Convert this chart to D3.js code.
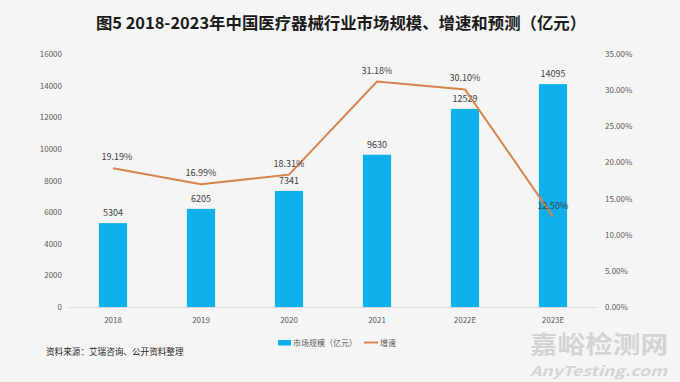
<!DOCTYPE html>
<html><head><meta charset="utf-8">
<script src="https://cdn.jsdelivr.net/npm/d3@7"></script>
<style>
html,body{margin:0;padding:0;background:#f5f5f5;}
svg{display:block;}
text{font-family:"Noto Sans CJK SC","Noto Sans",sans-serif;}
</style></head>
<body>
<svg id="c" width="680" height="382"></svg>
<script>
const categories = ["2018","2019","2020","2021","2022E","2023E"];
const marketSize = [5304,6205,7341,9630,12529,14095];
const growthRate = [19.19,16.99,18.31,31.18,30.10,12.50];
const leftTicks = [0,2000,4000,6000,8000,10000,12000,14000,16000];
const rightTicks = [0,5,10,15,20,25,30,35];
const title = "图5 2018-2023年中国医疗器械行业市场规模、增速和预测（亿元）";
const legendLabels = ["市场规模（亿元）","增速"];
const sourceText = "资料来源：艾瑞咨询、公开资料整理";

const svg = d3.select("#c");
svg.append("rect").attr("width",680).attr("height",382).attr("fill","#f5f5f5");

const m = {left:69, right:597, top:54, bottom:307};
const x = d3.scaleBand().domain(categories).range([m.left,m.right]).paddingInner(0.68).paddingOuter(0.34);
const yL = d3.scaleLinear().domain([0,16000]).range([m.bottom,m.top]);
const yR = d3.scaleLinear().domain([0,35]).range([m.bottom,m.top]);
const blue = "#0db0ea", orange = "#d5844b";
const numFont = "'Open Sans','Noto Sans',sans-serif";

svg.append("text").attr("x",341).attr("y",29).attr("text-anchor","middle")
  .attr("font-size","16.4px").attr("font-weight","bold").attr("fill","#1a1a1a").text(title);

// left axis
const gL = svg.append("g").attr("transform",`translate(${m.left},0)`)
  .call(d3.axisLeft(yL).tickValues(leftTicks).tickSize(0).tickPadding(7).tickFormat(d3.format("d")));
gL.select(".domain").remove();
gL.selectAll("text").attr("font-size","8px").attr("fill","#595959").attr("font-family",numFont);

// right axis
const gR = svg.append("g").attr("transform",`translate(${m.right},0)`)
  .call(d3.axisRight(yR).tickValues(rightTicks).tickSize(0).tickPadding(8).tickFormat(d=>d.toFixed(2)+"%"));
gR.select(".domain").remove();
gR.selectAll("text").attr("font-size","8px").attr("fill","#595959").attr("font-family",numFont);

// bars
svg.selectAll("rect.bar").data(categories).join("rect").attr("class","bar")
  .attr("x",d=>x(d)).attr("width",x.bandwidth())
  .attr("y",(d,i)=>yL(marketSize[i])).attr("height",(d,i)=>yL(0)-yL(marketSize[i]))
  .attr("fill",blue);

// baseline
svg.append("line").attr("x1",m.left).attr("x2",m.right).attr("y1",yL(0)+0.5).attr("y2",yL(0)+0.5)
  .attr("stroke","#d9d9d9").attr("stroke-width",1);

// bottom x axis labels
const gX = svg.append("g").attr("transform",`translate(0,${m.bottom})`)
  .call(d3.axisBottom(x).tickSize(0).tickPadding(10));
gX.select(".domain").remove();
gX.selectAll("text").attr("font-size","8px").attr("fill","#595959").attr("font-family",numFont);

// bar labels
svg.selectAll("text.bl").data(categories).join("text").attr("class","bl")
  .attr("x",d=>x(d)+x.bandwidth()/2).attr("y",(d,i)=>yL(marketSize[i])-7)
  .attr("text-anchor","middle").attr("font-size","9px").attr("fill","#404040")
  .attr("font-family",numFont)
  .text((d,i)=>marketSize[i]);

// line
const line = d3.line().x((d,i)=>x(categories[i])+x.bandwidth()/2).y(d=>yR(d));
svg.append("path").datum(growthRate).attr("d",line).attr("fill","none")
  .attr("stroke",orange).attr("stroke-width",2);

svg.selectAll("text.ll").data(growthRate).join("text").attr("class","ll")
  .attr("x",(d,i)=>x(categories[i])+x.bandwidth()/2+ (i===0?4:0)).attr("y",d=>yR(d)-8)
  .attr("text-anchor","middle").attr("font-size","9px").attr("fill","#404040")
  .attr("font-family",numFont)
  .text(d=>d.toFixed(2)+"%");

// legend
svg.append("rect").attr("x",278).attr("y",340).attr("width",13).attr("height",5.5).attr("fill",blue);
svg.append("text").attr("x",293).attr("y",345.5).attr("font-size","8px").attr("fill","#595959").text(legendLabels[0]);
svg.append("line").attr("x1",364).attr("x2",378).attr("y1",342.5).attr("y2",342.5).attr("stroke",orange).attr("stroke-width",2);
svg.append("text").attr("x",380).attr("y",345.5).attr("font-size","8px").attr("fill","#595959").text(legendLabels[1]);

// source
svg.append("text").attr("x",46).attr("y",355).attr("font-size","8.6px").attr("fill","#262626").text(sourceText);

// watermark
svg.append("text").attr("x",530).attr("y",352.5).attr("font-size","23.5px").attr("font-weight","bold")
  .attr("fill","#d3d3d3").attr("textLength",138).attr("lengthAdjust","spacingAndGlyphs").text("嘉峪检测网");
svg.append("text").attr("x",530).attr("y",376).attr("font-size","13.5px")
  .attr("font-family","'DejaVu Sans',sans-serif").attr("font-style","italic").attr("font-weight","bold")
  .attr("fill","#d3d3d3").attr("textLength",137).attr("lengthAdjust","spacingAndGlyphs").text("AnyTesting.com");
</script>
</body></html>
